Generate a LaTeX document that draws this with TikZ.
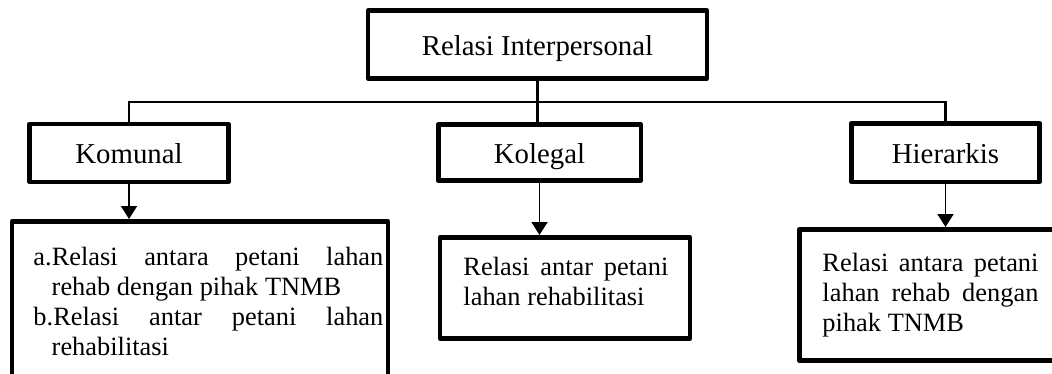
\documentclass[tikz,border=0pt]{standalone}
\usepackage{fontspec}
\setmainfont{Liberation Serif}
\usepackage{tikz}
\usetikzlibrary{
    arrows.meta,
    positioning
}
\hyphenpenalty=10000
\exhyphenpenalty=10000

\begin{document}
\begin{tikzpicture}[
        x=0.4167pt, y=-0.4167pt,
        kotak/.style={draw, line width=1.9pt, line join=round, inner sep=0pt,
            text height=9pt, text depth=0pt, font=\fontsize{12}{14}\selectfont},
        isi/.style={inner sep=0pt, anchor=north west, align=justify,
            font=\fontsize{11}{12.4}\selectfont},
        garis/.style={line width=1.1pt},
        panah/.style={line width=0.6pt, -{Triangle[width=6.7pt, length=5.4pt]}}
    ]
    \useasboundingbox (0, 0) rectangle (1052, 373);

    \node[kotak, minimum width=141.1pt, minimum height=28.5pt] (relasi) at (537.5, 44.5) {Relasi Interpersonal};
    \node[kotak, minimum width=83.1pt, minimum height=24pt] (komunal) at (129, 153) {Komunal};
    \node[kotak, minimum width=84.4pt, minimum height=23.5pt] (kolegal) at (539.5, 152.5) {Kolegal};
    \node[kotak, minimum width=78.5pt, minimum height=24.4pt] (hierarkis) at (945.5, 152.5) {Hierarkis};

    \node[kotak, minimum width=156.5pt, minimum height=67.3pt] (isiKomunal) at (200, 302) {};
    \node[kotak, minimum width=104pt, minimum height=42.3pt] (isiKolegal) at (565, 288) {};
    \node[kotak, minimum width=108.5pt, minimum height=54.8pt] (isiHierarkis) at (929.5, 295) {};

    \node[isi, text width=145.8pt] (teksKomunal) at (33, 247) {%
        \hangindent=7.6pt\hangafter=1 a.Relasi antara petani lahan\linebreak rehab dengan pihak TNMB\par
        \hangindent=7.6pt\hangafter=1 b.Relasi antar petani lahan rehabilitasi\par};
    \node[isi, text width=85.4pt] (teksKolegal) at (463, 257) {Relasi antar petani lahan rehabilitasi};
    \node[isi, text width=90pt] (teksHierarkis) at (822, 253) {Relasi antara petani lahan rehab dengan pihak TNMB};

    \draw[garis] (relasi.south) -- (relasi.south |- kolegal.north);
    \draw[garis] (komunal.north) -- ++(0, -20) -| (hierarkis.north);

    \draw[panah] (komunal.south) -- (komunal.south |- isiKomunal.north);
    \draw[panah] (kolegal.south) -- (kolegal.south |- isiKolegal.north);
    \draw[panah] (hierarkis.south) -- (hierarkis.south |- isiHierarkis.north);
\end{tikzpicture}
\end{document}
